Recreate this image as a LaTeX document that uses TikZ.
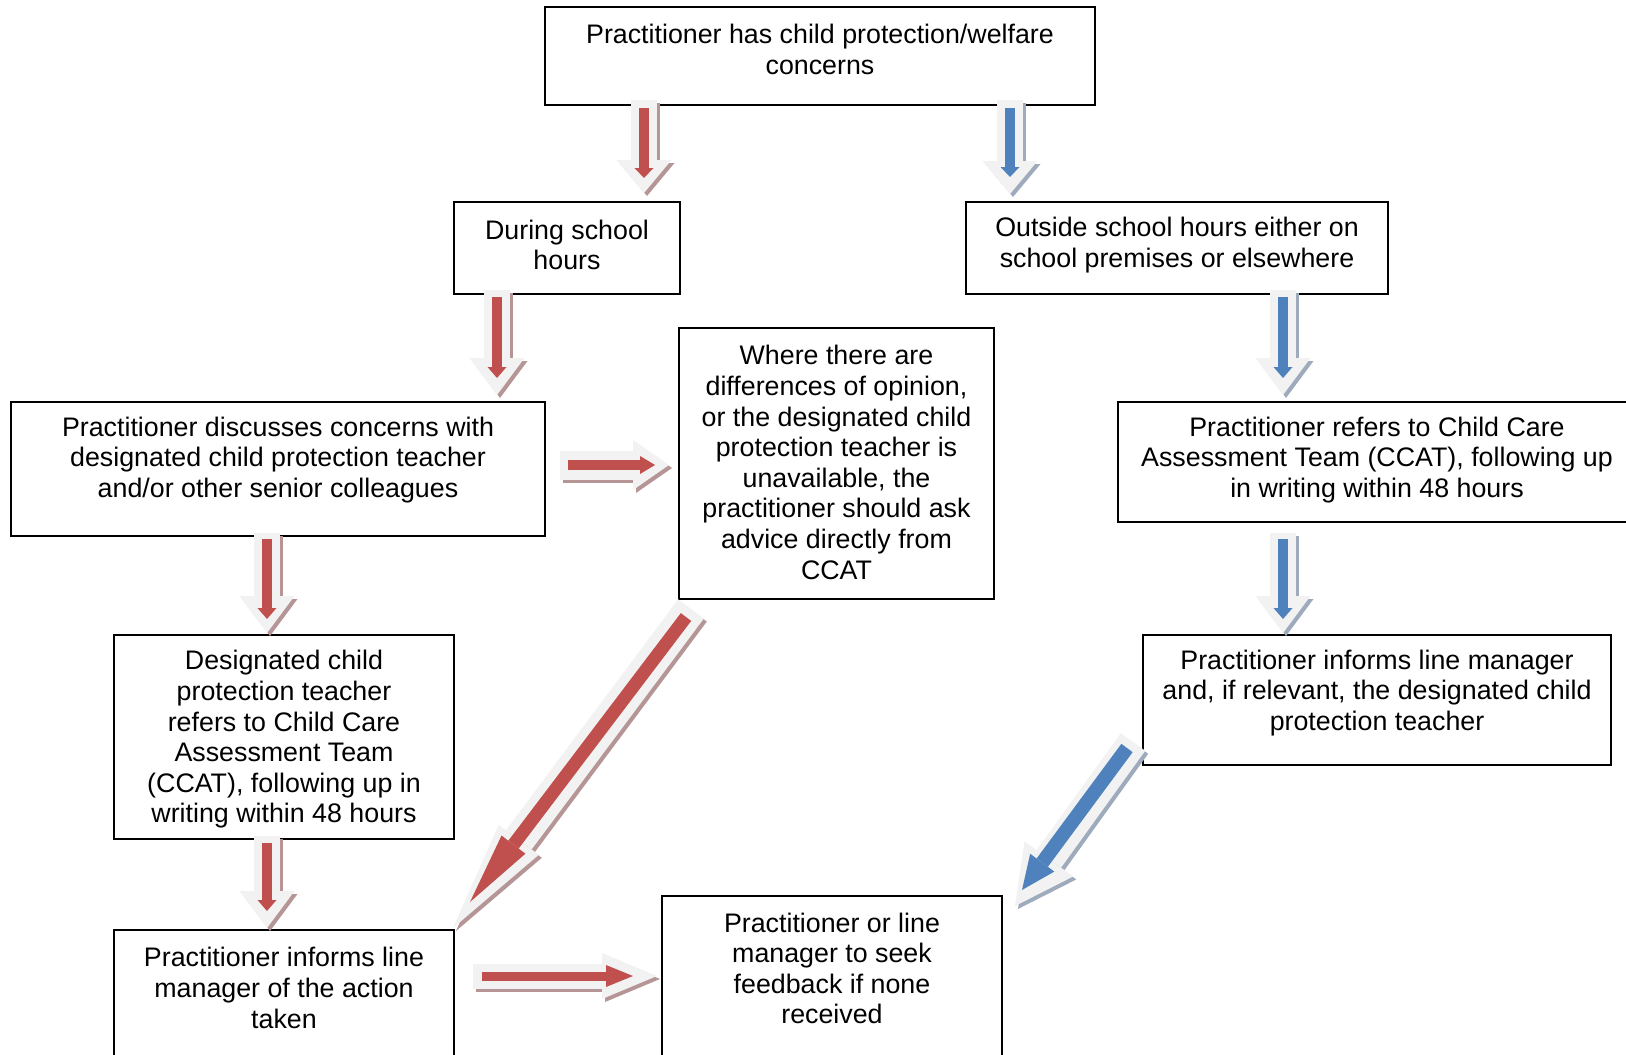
\documentclass[tikz,border=0pt]{standalone}
\usepackage{fontspec}
\setmainfont{Liberation Sans}
\usetikzlibrary{arrows.meta}
\definecolor{arrred}{HTML}{C0504D}
\definecolor{arrblue}{HTML}{4F81BD}
\definecolor{arrgray}{HTML}{F2F2F2}
\definecolor{shred}{HTML}{B59595}
\definecolor{shblue}{HTML}{9EABBD}
\tikzset{
  box/.style={draw=black, line width=1pt, inner sep=0pt, anchor=north west},
  lbl/.style={align=center, font=\fontsize{13.4pt}{15.3pt}\selectfont, inner sep=0pt},
  tipped/.style n args={3}{line width=#1, -{Triangle[length=#2,width=#3,line width=0pt]}},
}
\newcommand\blockarrow[5]{%
  \draw[draw=#3, tipped=#4] ([shift={(3,3)}]#1s) -- ([shift={(3,3)}]#1e);
  \draw[draw=arrgray, tipped=#4] (#1s) -- (#1e);
  \draw[draw=#2, tipped=#5] (#1is) -- (#1ie);
}
\begin{document}
\begin{tikzpicture}[x=0.5pt, y=-0.5pt]
\clip (0,0) rectangle (1626,1054);
\fill[white] (0,0) rectangle (1626,1054);

% boxes
\node[box, minimum width=275pt, minimum height=49pt,
  label={[lbl, yshift=3.2pt]center:{Practitioner has child protection/welfare\\concerns}}] (n1) at (544,6) {};
\node[box, minimum width=113pt, minimum height=46pt,
  label={[lbl, yshift=1.5pt]center:{During school\\hours}}] (n2) at (453,201) {};
\node[box, minimum width=211pt, minimum height=46pt,
  label={[lbl, yshift=1.5pt]center:{Outside school hours either on\\school premises or elsewhere}}] (n3) at (965,201) {};
\node[box, minimum width=267pt, minimum height=67pt,
  label={[lbl, yshift=4.5pt]center:{Practitioner discusses concerns with\\designated child protection teacher\\and/or other senior colleagues}}] (n4) at (10,401) {};
\node[box, minimum width=157.5pt, minimum height=135.5pt,
  label={[lbl, yshift=0.5pt]center:{Where there are\\differences of opinion,\\or the designated child\\protection teacher is\\unavailable, the\\practitioner should ask\\advice directly from\\CCAT}}] (n5) at (678,327) {};
\node[box, minimum width=259pt, minimum height=60pt,
  label={[lbl, yshift=1pt]center:{Practitioner refers to Child Care\\Assessment Team (CCAT), following up\\in writing within 48 hours}}] (n6) at (1117,401) {};
\node[box, minimum width=170pt, minimum height=102pt,
  label={[lbl, yshift=-1.25pt]center:{Designated child\\protection teacher\\refers to Child Care\\Assessment Team\\(CCAT), following up in\\writing within 48 hours}}] (n7) at (113,634) {};
\node[box, minimum width=234pt, minimum height=65pt,
  label={[lbl, yshift=3.5pt]center:{Practitioner informs line manager\\and, if relevant, the designated child\\protection teacher}}] (n8) at (1142,634) {};
\node[box, minimum width=170pt, minimum height=100pt,
  label={[lbl, yshift=21pt]center:{Practitioner informs line\\manager of the action\\taken}}] (n9) at (113,929) {};
\node[box, minimum width=170pt, minimum height=117pt,
  label={[lbl, yshift=22.25pt]center:{Practitioner or line\\manager to seek\\feedback if none\\received}}] (n10) at (661,895) {};

% arrow end points
\coordinate (a1s) at (644,100);  \coordinate (a1e) at (644,193);
\coordinate (a1is) at (644,108); \coordinate (a1ie) at (644,178);
\coordinate (a2s) at (1010,100);  \coordinate (a2e) at (1010,194);
\coordinate (a2is) at (1010,108); \coordinate (a2ie) at (1010,177);
\coordinate (a3s) at (497,290);  \coordinate (a3e) at (497,395);
\coordinate (a3is) at (497,297); \coordinate (a3ie) at (497,378);
\coordinate (a4s) at (267,533);  \coordinate (a4e) at (267,633);
\coordinate (a4is) at (267,539); \coordinate (a4ie) at (267,619);
\coordinate (a5s) at (267,836);  \coordinate (a5e) at (267,928);
\coordinate (a5is) at (267,843); \coordinate (a5ie) at (267,911);
\coordinate (a6s) at (1283,290);  \coordinate (a6e) at (1283,395);
\coordinate (a6is) at (1283,297); \coordinate (a6ie) at (1283,378);
\coordinate (a7s) at (1283,533);  \coordinate (a7e) at (1283,633);
\coordinate (a7is) at (1283,539); \coordinate (a7ie) at (1283,619);
\coordinate (a8s) at (560,465);  \coordinate (a8e) at (669,465);
\coordinate (a8is) at (568,465); \coordinate (a8ie) at (655,465);
\coordinate (a9s) at (473,976);  \coordinate (a9e) at (657,976);
\coordinate (a9is) at (482,976); \coordinate (a9ie) at (633,976);
\coordinate (a10s) at (691,609);  \coordinate (a10e) at (453,928);
\coordinate (a10is) at (686,617); \coordinate (a10ie) at (470,902);
\coordinate (a11s) at (1133,742);  \coordinate (a11e) at (1015,906);
\coordinate (a11is) at (1127,748); \coordinate (a11ie) at (1022,890);

% block arrows
\blockarrow{a1}{arrred}{shred}{{13pt}{16.5pt}{27.5pt}}{{5pt}{5pt}{9.5pt}}
\blockarrow{a2}{arrblue}{shblue}{{13pt}{16.5pt}{27.5pt}}{{5pt}{5pt}{9.5pt}}
\blockarrow{a3}{arrred}{shred}{{13pt}{18.5pt}{27.5pt}}{{5pt}{5.5pt}{9.5pt}}
\blockarrow{a4}{arrred}{shred}{{13pt}{18.5pt}{27.5pt}}{{5pt}{5.5pt}{9.5pt}}
\blockarrow{a5}{arrred}{shred}{{13pt}{18.5pt}{27.5pt}}{{5pt}{5.5pt}{9.5pt}}
\blockarrow{a6}{arrblue}{shblue}{{13pt}{18.5pt}{27.5pt}}{{5pt}{5.5pt}{9.5pt}}
\blockarrow{a7}{arrblue}{shblue}{{13pt}{18.5pt}{27.5pt}}{{5pt}{5.5pt}{9.5pt}}
\blockarrow{a8}{arrred}{shred}{{14.5pt}{18pt}{25pt}}{{5pt}{7.5pt}{9pt}}
\blockarrow{a9}{arrred}{shred}{{12.5pt}{27.5pt}{23pt}}{{4.5pt}{13.5pt}{11pt}}
\blockarrow{a10}{arrred}{shred}{{16pt}{55pt}{25pt}}{{6.5pt}{36pt}{15pt}}
\blockarrow{a11}{arrblue}{shblue}{{15pt}{29pt}{30pt}}{{7pt}{17pt}{15pt}}
\end{tikzpicture}
\end{document}
